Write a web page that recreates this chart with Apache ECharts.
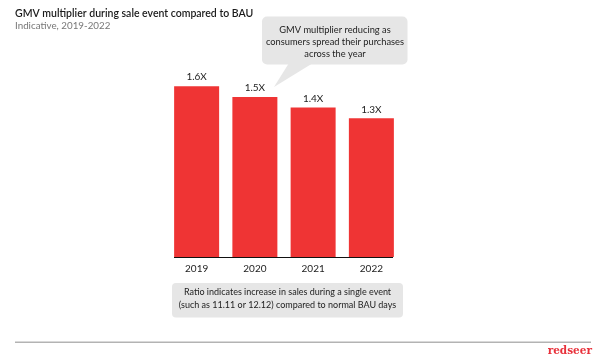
<!DOCTYPE html>
<html><head><meta charset="utf-8">
<script src="https://cdn.jsdelivr.net/npm/echarts@6/dist/echarts.min.js"></script>
<style>html,body{margin:0;padding:0;background:#fff}#c{width:602px;height:363px}</style>
</head><body><div id="c"></div>
<script>
const categories = ['2019', '2020', '2021', '2022'];
const multiplier = [1.6, 1.5, 1.4, 1.3];
const titleText = 'GMV multiplier during sale event compared to BAU';
const subtitleText = 'Indicative, 2019-2022';
const calloutText = 'GMV multiplier reducing as\nconsumers spread their purchases\nacross the year';
const noteText = 'Ratio indicates increase in sales during a single event\n(such as 11.11 or 12.12) compared to normal BAU days';

const FONT = 'Lato';
const chart = echarts.init(document.getElementById('c'), null, {renderer: 'canvas'});
chart.setOption({
  backgroundColor: '#ffffff',
  animation: false,
  textStyle: {fontFamily: FONT},
  title: {
    text: titleText, subtext: subtitleText,
    left: 15, top: 7, itemGap: 0, padding: 0,
    textStyle: {fontFamily: FONT, fontSize: 10.5, fontWeight: 600, color: '#1a1a1a', lineHeight: 13},
    subtextStyle: {fontFamily: FONT, fontSize: 9.8, color: '#777777', lineHeight: 11}
  },
  grid: {left: 167.5, width: 233, top: 43.6, bottom: 106},
  xAxis: {
    type: 'category', data: categories,
    axisLine: {show: false}, axisTick: {show: false},
    axisLabel: {margin: 7, fontSize: 10, color: '#222', fontFamily: FONT}
  },
  yAxis: {type: 'value', min: 0, max: 2, show: false, splitLine: {show: false}},
  series: [{
    type: 'bar', data: multiplier, barWidth: 45,
    itemStyle: {color: '#ef3434'},
    label: {show: true, position: 'top', distance: 4, fontSize: 10, color: '#222',
      fontFamily: FONT, formatter: p => p.value + 'X'}
  }],
  graphic: [
    {type: 'line', shape: {x1: 174, y1: 257.5, x2: 393, y2: 257.5}, style: {stroke: '#111', lineWidth: 1}, z: 10},
    {type: 'polygon', shape: {points: [[289, 63], [313, 63], [274, 87]]}, style: {fill: '#e6e6e6'}},
    {type: 'rect', shape: {x: 262, y: 16.5, width: 145.5, height: 48, r: 5}, style: {fill: '#e6e6e6'}},
    {type: 'text', x: 335, y: 42, style: {text: calloutText, fontFamily: FONT, fontSize: 9.3, lineHeight: 11.8,
      fill: '#222', align: 'center', verticalAlign: 'middle'}},
    {type: 'rect', shape: {x: 172, y: 283, width: 231, height: 34.5, r: 4}, style: {fill: '#e6e6e6'}},
    {type: 'text', x: 287.5, y: 298.8, style: {text: noteText, fontFamily: FONT, fontSize: 9, lineHeight: 12.6,
      fill: '#222', align: 'center', verticalAlign: 'middle'}},
    {type: 'line', shape: {x1: 15, y1: 342.3, x2: 591, y2: 342.3}, style: {stroke: '#b3b3b3', lineWidth: 1.5}},
    {type: 'text', x: 592, y: 351, style: {text: 'redseer', fontFamily: 'DejaVu Serif', fontWeight: 'bold',
      fontSize: 10.5, fill: '#e8303a', align: 'right', verticalAlign: 'middle'}}
  ]
});
</script></body></html>
